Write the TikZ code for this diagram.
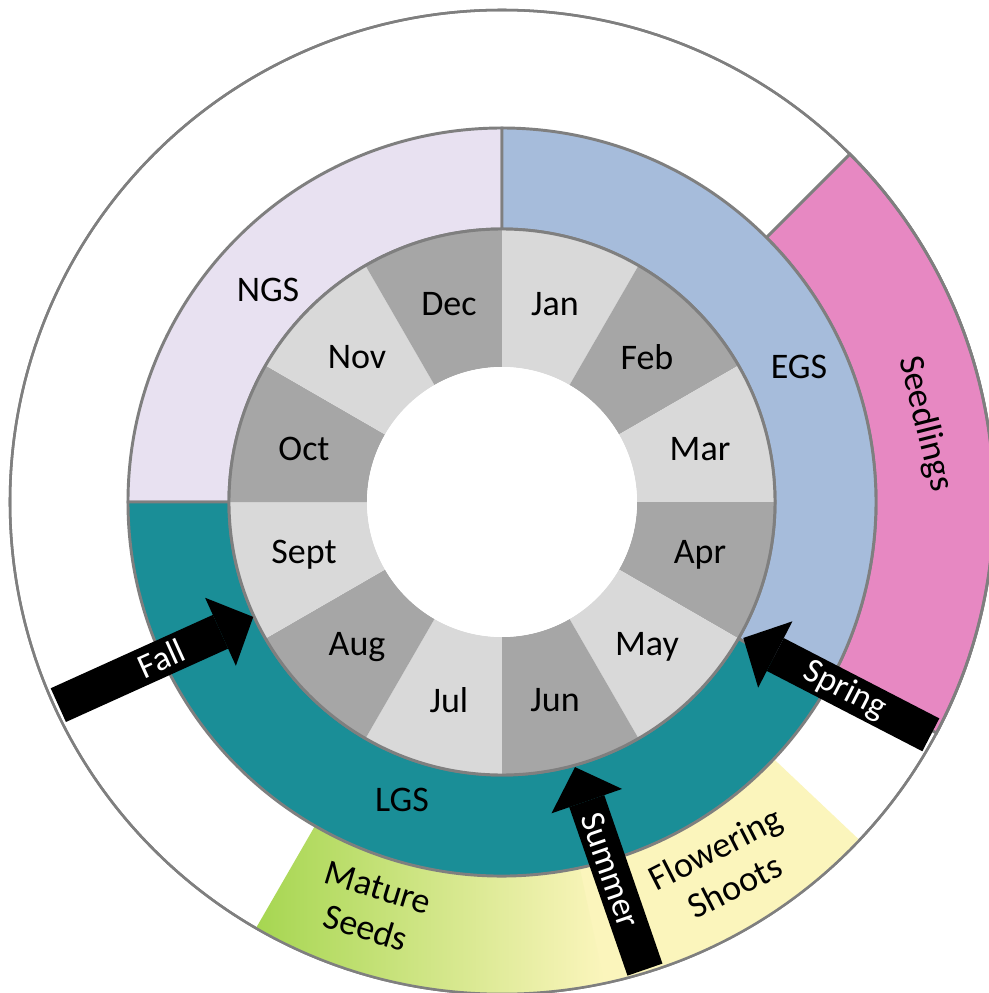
\documentclass[tikz,border=0pt]{standalone}
\usepackage{fontspec}
\setmainfont{Carlito}
\usepackage{tikz}
\usetikzlibrary{arrows.meta}
\definecolor{ngscol}{HTML}{E8E1F1}
\definecolor{egscol}{HTML}{A6BCDB}
\definecolor{lgscol}{HTML}{1A8E97}
\definecolor{seedlingcol}{HTML}{E788C2}
\definecolor{flowercol}{HTML}{FBF5BC}
\definecolor{maturecol}{HTML}{A6D651}
\definecolor{monthlight}{HTML}{D9D9D9}
\definecolor{monthdark}{HTML}{A6A6A6}
\definecolor{ringline}{HTML}{7F7F7F}

\begin{document}
\begin{tikzpicture}[x=0.75pt, y=0.75pt,
  ringedge/.style={draw=ringline, line width=2.2pt},
  monthtext/.style={font=\fontsize{27}{32}\selectfont, align=center},
  blockarrow/.style={line width=27.75pt, -{Triangle[length=27pt, width=56pt, line width=0pt]}},
  arrowtext/.style={sloped, text=white, font=\fontsize{26}{30}\selectfont}]

\useasboundingbox (-502,-491) rectangle (487,502);
\clip (-502,-491) rectangle (487,502);

\draw[ringline, line width=1.9pt, fill=white] (0,0) circle[radius=492];

\draw[ringedge, fill=seedlingcol] (-28:374) arc[start angle=-28, end angle=45, radius=374] -- (45:492) arc[start angle=45, end angle=-28, radius=492] -- cycle;
\fill[flowercol] (-80:374) arc[start angle=-80, end angle=-43.4, radius=374] -- (-43.4:492) arc[start angle=-43.4, end angle=-80, radius=492] -- cycle;
\shade[left color=maturecol, right color=flowercol] (-120:374) arc[start angle=-120, end angle=-78, radius=374] -- (-78:492) arc[start angle=-78, end angle=-120, radius=492] -- cycle;
\draw[ringline, line width=1.9pt] (0,0) circle[radius=492];

\draw[ringedge, fill=ngscol] (90:273) arc[start angle=90, end angle=180, radius=273] -- (180:374) arc[start angle=180, end angle=90, radius=374] -- cycle;
\draw[ringedge, fill=egscol] (-30:273) arc[start angle=-30, end angle=90, radius=273] -- (90:374) arc[start angle=90, end angle=-30, radius=374] -- cycle;
\draw[ringedge, fill=lgscol] (-180:273) arc[start angle=-180, end angle=-30, radius=273] -- (-30:374) arc[start angle=-30, end angle=-180, radius=374] -- cycle;

\foreach \m/\c [count=\i] in {Jan/monthlight, Feb/monthdark, Mar/monthlight, Apr/monthdark, May/monthlight, Jun/monthdark, Jul/monthlight, Aug/monthdark, Sept/monthlight, Oct/monthdark, Nov/monthlight, Dec/monthdark}
  \fill[\c] ({120-30*\i}:135) arc[start angle={120-30*\i}, end angle={90-30*\i}, radius=135] -- ({90-30*\i}:273) arc[start angle={90-30*\i}, end angle={120-30*\i}, radius=273] -- cycle;
\draw[ringedge] (0,0) circle[radius=273];
\fill[white] (0,0) circle[radius=135];

\foreach \m [count=\i] in {Jan, Feb, Mar, Apr, May, Jun, Jul, Aug, Sept, Oct, Nov, Dec}
  \node[monthtext] (\m) at ({105-30*\i}:205) {\m};

\node[monthtext] (ngs) at (-234,212) {NGS};
\node[monthtext] (egs) at (297,135) {EGS};
\node[monthtext] (lgs) at (-100,-298) {LGS};
\node[monthtext, rotate=-76] (seedlings) at (423,78) {Seedlings};
\node[monthtext, rotate=-17] (mature) at (-130,-406) {Mature\\Seeds};
\node[monthtext, rotate=27] (flowering) at (223,-365) {Flowering\\Shoots};

\coordinate (falltail) at (-155.4:488);
\coordinate (falltip) at (-155.2:274);
\coordinate (springtail) at (-28.5:488);
\coordinate (springtip) at (-29.4:277);
\coordinate (summertail) at (-73:489);
\coordinate (summertip) at (-74.6:275);

\draw[blockarrow] (falltail) -- node[arrowtext, pos=0.53] {Fall} (falltip);
\draw[blockarrow] (springtail) -- node[arrowtext, pos=0.46] {Spring} (springtip);
\draw[blockarrow] (summertail) -- node[arrowtext, pos=0.49] {Summer} (summertip);

\end{tikzpicture}
\end{document}
